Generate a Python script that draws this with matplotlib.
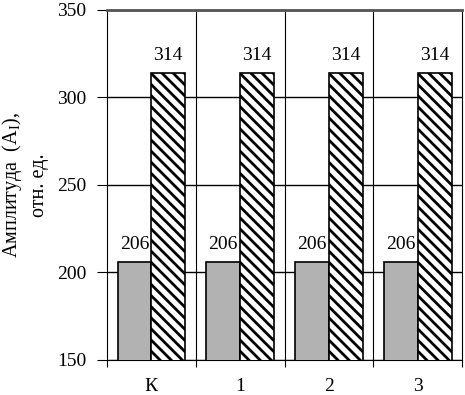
import numpy as np
import matplotlib.pyplot as plt

categories = ['К', '1', '2', '3']
gray_vals = [206, 206, 206, 206]
hatch_vals = [314, 314, 314, 314]

plt.rcParams['font.family'] = ['Liberation Serif', 'DejaVu Serif']
plt.rcParams['hatch.linewidth'] = 2.0

fig = plt.figure(figsize=(4.65, 3.95), dpi=100)
ax = fig.add_axes([0.230, 0.089, 0.764, 0.886])

x = np.arange(len(categories))
w = 0.38
ax.bar(x - w / 2, gray_vals, w, color='#b2b2b2', edgecolor='black', linewidth=1.2, zorder=3)
ax.bar(x + w / 2, hatch_vals, w, color='white', edgecolor='black', hatch='\\\\\\', linewidth=1.2, zorder=3)

for xi, v in zip(x, gray_vals):
    ax.text(xi - w / 2, v + 5, str(v), ha='center', va='bottom', fontsize=14)
for xi, v in zip(x, hatch_vals):
    ax.text(xi + w / 2, v + 5, str(v), ha='center', va='bottom', fontsize=14)

ax.set_ylim(150, 350)
ax.set_xlim(-0.5, len(categories) - 0.5)
ax.set_yticks([150, 200, 250, 300, 350])
ax.yaxis.grid(True, color='black', linewidth=1.0, zorder=0)
for b in np.arange(0.5, len(categories) - 0.5, 1):
    ax.axvline(b, color='black', linewidth=0.8, zorder=0)

ax.set_xticks(x)
ax.set_xticklabels(categories)
ax.set_xticks(np.arange(-0.5, len(categories), 1), minor=True)
ax.tick_params(axis='x', which='major', length=0, labelsize=14, pad=13)
ax.tick_params(axis='x', which='minor', length=5, width=0.8)
ax.tick_params(axis='y', length=7, width=0.8, labelsize=14, pad=8)

for s in ['left', 'right', 'bottom']:
    ax.spines[s].set_linewidth(0.8)
ax.spines['top'].set_linewidth(2.0)
ax.spines['top'].set_color('#555555')

ax.set_ylabel('Амплитуда  (A$_\\mathregular{I}$),\nотн. ед.', fontsize=14.5, linespacing=1.4)
ax.yaxis.set_label_coords(-0.163, 0.5)

fig.savefig('out.png', dpi=100)
